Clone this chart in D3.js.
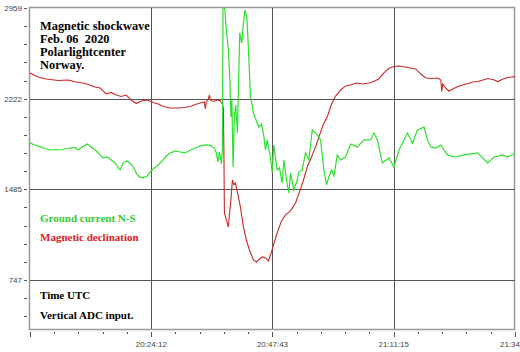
<!DOCTYPE html>
<html>
<head>
<meta charset="utf-8">
<script src="https://cdn.jsdelivr.net/npm/d3@7"></script>
<style>
    body { margin: 0; background: #fff; }
    svg { display: block; }
    .lbl { font-family: "Liberation Serif", "Times New Roman", serif; font-weight: bold; font-size: 11px; white-space: pre; }
    .title { font-size: 12.4px; }
    .tick { font-family: "Liberation Sans", Arial, sans-serif; font-size: 8px; fill: #444; }
</style>
</head>
<body>
<svg id="chart" width="520" height="352"></svg>
<script>
// minutes after 20:00 UTC, ADC units

var yTicks = [747, 1485, 2222, 2959];
var xTicks = [24.2, 47.717, 71.25, 94.78];
var xTickLabels = ["20:24:12", "20:47:43", "21:11:15", "21:34"];

var declTime = [0.67, 2.22, 3.78, 6.11, 8.05, 9.61, 11.36, 13.30, 14.28, 15.44, 16.42, 17.39, 18.36, 19.33,
    20.30, 21.28, 22.25, 23.41, 24.58, 25.55, 26.52, 27.89, 29.25, 30.61, 31.78, 32.75, 33.72, 34.50,
    34.69, 34.89, 35.27, 35.47, 35.66, 36.25, 36.83, 37.41, 37.99, 38.19, 38.29, 38.39, 38.77, 39.16,
    39.36, 39.65, 39.94, 40.23, 40.52, 40.91, 41.49, 42.08, 42.66, 43.25, 44.02, 44.61, 45.19, 45.77,
    46.36, 46.94, 47.52, 48.10, 48.69, 49.47, 50.24, 51.02, 51.60, 52.19, 52.96, 53.74, 54.52, 55.30,
    56.08, 56.86, 57.63, 58.41, 59.19, 59.97, 60.94, 61.91, 62.88, 64.05, 65.21, 66.38, 67.35, 68.32,
    69.30, 70.27, 71.24, 72.21, 73.38, 74.55, 75.52, 76.49, 77.46, 78.63, 79.80, 80.38, 80.58, 80.77,
    81.35, 81.94, 82.71, 83.69, 84.66, 85.63, 86.60, 87.57, 88.55, 89.52, 90.49, 91.46, 92.43, 93.41,
    94.18, 94.96];
var declValue = [2430, 2398, 2382, 2369, 2373, 2357, 2345, 2317, 2308, 2260, 2272, 2251, 2239, 2251,
    2211, 2182, 2203, 2211, 2190, 2178, 2158, 2146, 2146, 2150, 2158, 2174, 2186, 2195,
    2138, 2199, 2219, 2251, 2211, 2199, 2207, 2211, 2178, 2146, 1804, 1292, 1235, 1178,
    1276, 1398, 1560, 1520, 1536, 1463, 1341, 1178, 1072, 991, 910, 893, 918, 934,
    926, 902, 975, 1056, 1137, 1227, 1276, 1300, 1333, 1373, 1463, 1560, 1674, 1747,
    1829, 1926, 2016, 2081, 2178, 2243, 2292, 2325, 2333, 2349, 2341, 2349, 2361, 2382,
    2430, 2467, 2483, 2487, 2479, 2471, 2463, 2422, 2390, 2386, 2390, 2373, 2280, 2341,
    2308, 2284, 2300, 2321, 2333, 2345, 2357, 2361, 2373, 2386, 2378, 2361, 2382, 2394,
    2398, 2402];

var groundTime = [0.67, 1.64, 2.61, 3.58, 4.56, 5.53, 6.50, 7.47, 8.44, 9.42, 10.00, 10.78, 11.75, 12.53,
    13.30, 14.08, 14.86, 15.64, 16.42, 17.19, 17.78, 18.16, 18.75, 19.33, 20.11, 20.69, 21.28, 21.86,
    22.64, 23.41, 24.00, 24.78, 25.55, 26.33, 27.11, 27.89, 28.86, 29.83, 30.80, 31.78, 32.75, 33.72,
    34.69, 35.66, 36.44, 36.83, 37.12, 37.41, 37.61, 37.80, 38.00, 38.13, 38.39, 38.77, 39.16, 39.45,
    39.65, 39.84, 40.07, 40.33, 40.58, 40.91, 41.36, 41.75, 42.02, 42.37, 42.76, 43.15, 43.44, 44.02,
    44.61, 45.09, 45.58, 46.06, 46.36, 46.69, 47.04, 47.33, 47.66, 47.97, 48.63, 49.08, 49.60, 49.92,
    50.58, 50.89, 51.22, 51.86, 52.52, 52.83, 53.49, 54.13, 54.78, 55.44, 55.88, 56.41, 57.05, 57.69,
    58.22, 58.66, 59.19, 59.64, 60.30, 60.94, 61.91, 62.88, 64.18, 65.47, 66.77, 67.41, 68.07, 69.04,
    70.33, 71.30, 72.27, 73.91, 74.88, 75.85, 77.13, 77.79, 78.44, 79.41, 80.38, 81.68, 82.97, 84.91,
    87.52, 89.46, 90.75, 92.38, 93.35, 94.96];
var groundValue = [1861, 1845, 1829, 1816, 1804, 1808, 1804, 1812, 1820, 1825, 1804, 1829, 1853, 1829,
    1804, 1772, 1739, 1747, 1723, 1698, 1658, 1642, 1698, 1715, 1698, 1666, 1617, 1585,
    1577, 1593, 1625, 1658, 1682, 1715, 1755, 1780, 1796, 1788, 1780, 1804, 1820, 1837,
    1845, 1841, 1820, 1780, 1707, 1788, 1747, 1690, 1804, 2990, 2990, 2780, 2617, 2373,
    2073, 2211, 1666, 2073, 2170, 1942, 2756, 2674, 2804, 2943, 2878, 2536, 2251, 2105,
    2040, 1991, 2016, 1910, 1804, 1886, 1804, 1747, 1617, 1845, 1642, 1658, 1536, 1723,
    1520, 1455, 1617, 1479, 1560, 1625, 1642, 1780, 1723, 1967, 1951, 1926, 1886, 1642,
    1520, 1585, 1642, 1593, 1764, 1723, 1747, 1853, 1829, 1886, 1886, 1942, 1886, 1698,
    1739, 1666, 1804, 1942, 1861, 1967, 1991, 1886, 1829, 1820, 1845, 1764, 1747, 1764,
    1780, 1698, 1747, 1764, 1747, 1780];

var titleLines = ["Magnetic shockwave", "Feb. 06  2020", "Polarlightcenter", "Norway."];

var svg = d3.select("#chart");
var padL = 30, padR = 515, padT = 8, padB = 329;

var x = d3.scaleLinear().domain([0.667, 94.78]).range([padL, padR]);
var y = d3.scaleLinear().domain([348, 2959]).range([padB, padT]);

svg.append("clipPath").attr("id", "plotclip")
    .append("rect").attr("x", padL).attr("y", padT).attr("width", padR - padL).attr("height", padB - padT);

// frame
svg.append("rect")
    .attr("x", padL - 0.5).attr("y", padT - 0.5)
    .attr("width", padR - padL).attr("height", padB - padT + 1)
    .attr("fill", "none").attr("stroke", "#999").attr("stroke-width", 1.5);

// grid
svg.selectAll(".hgrid").data(yTicks.slice(0, 3)).enter().append("line")
    .attr("x1", padL).attr("x2", padR)
    .attr("y1", function(d) { return Math.round(y(d)) + 0.5; })
    .attr("y2", function(d) { return Math.round(y(d)) + 0.5; })
    .attr("stroke", "#555").attr("stroke-width", 1);
svg.selectAll(".vgrid").data(xTicks.slice(0, 3)).enter().append("line")
    .attr("y1", padT).attr("y2", padB)
    .attr("x1", function(d) { return Math.round(x(d)) + 0.5; })
    .attr("x2", function(d) { return Math.round(x(d)) + 0.5; })
    .attr("stroke", "#555").attr("stroke-width", 1);

// y ticks
var yStep = (2959 - 747) / 3 / 5;
var yMinor = d3.range(0, 18).map(function(i) { return 2959 - i * yStep; });
svg.selectAll(".ymin").data(yMinor).enter().append("line")
    .attr("x1", 24).attr("x2", 27)
    .attr("y1", function(d) { return Math.round(y(d)) + 0.5; })
    .attr("y2", function(d) { return Math.round(y(d)) + 0.5; })
    .attr("stroke", "#555");
svg.selectAll(".ylab").data(yTicks).enter().append("text")
    .attr("class", "tick")
    .attr("x", 22).attr("y", function(d) { return y(d) + 3; })
    .attr("text-anchor", "end")
    .text(function(d) { return d; });

// x ticks
var xStep = (xTicks[1] - xTicks[0]) / 5;
var xMinor = d3.range(0, 21).map(function(i) { return x.domain()[0] + i * xStep; });
svg.selectAll(".xmin").data(xMinor).enter().append("line")
    .attr("x1", function(d) { return Math.round(x(d)) + 0.5; })
    .attr("x2", function(d) { return Math.round(x(d)) + 0.5; })
    .attr("y1", 332).attr("y2", function(d, i) { return i % 5 == 0 ? 337 : 334; })
    .attr("stroke", "#555");
svg.selectAll(".xlab").data(xTicks).enter().append("text")
    .attr("class", "tick")
    .attr("x", function(d, i) { return i == xTicks.length - 1 ? 520 : x(d); }).attr("y", 347)
    .attr("text-anchor", function(d, i) { return i == xTicks.length - 1 ? "end" : "middle"; })
    .text(function(d, i) { return xTickLabels[i]; });

// series
var line = d3.line()
    .x(function(d) { return x(d[0]); })
    .y(function(d) { return y(d[1]); });

var decl = d3.zip(declTime, declValue);
var ground = d3.zip(groundTime, groundValue);

var plot = svg.append("g").attr("clip-path", "url(#plotclip)");
plot.append("path").datum(decl)
    .attr("d", line).attr("fill", "none")
    .attr("stroke", "#c82828").attr("stroke-width", 1.1);
plot.append("path").datum(ground)
    .attr("d", line).attr("fill", "none")
    .attr("stroke", "#2ee02e").attr("stroke-width", 1.2);

// labels
svg.selectAll(".titleline").data(titleLines).enter().append("text")
    .attr("class", "lbl title")
    .attr("x", 40).attr("y", function(d, i) { return 29.5 + i * 13; })
    .attr("fill", "#000")
    .text(function(d) { return d; });

svg.append("text").attr("class", "lbl").attr("x", 40).attr("y", 221.5).attr("fill", "#33cc33").text("Ground current N-S");
svg.append("text").attr("class", "lbl").attr("x", 40).attr("y", 241).attr("fill", "#dd2222").text("Magnetic declination");
svg.append("text").attr("class", "lbl").attr("x", 40).attr("y", 299).attr("fill", "#000").text("Time UTC");
svg.append("text").attr("class", "lbl").attr("x", 40).attr("y", 319).attr("fill", "#000").text("Vertical ADC input.");
</script>
</body>
</html>
